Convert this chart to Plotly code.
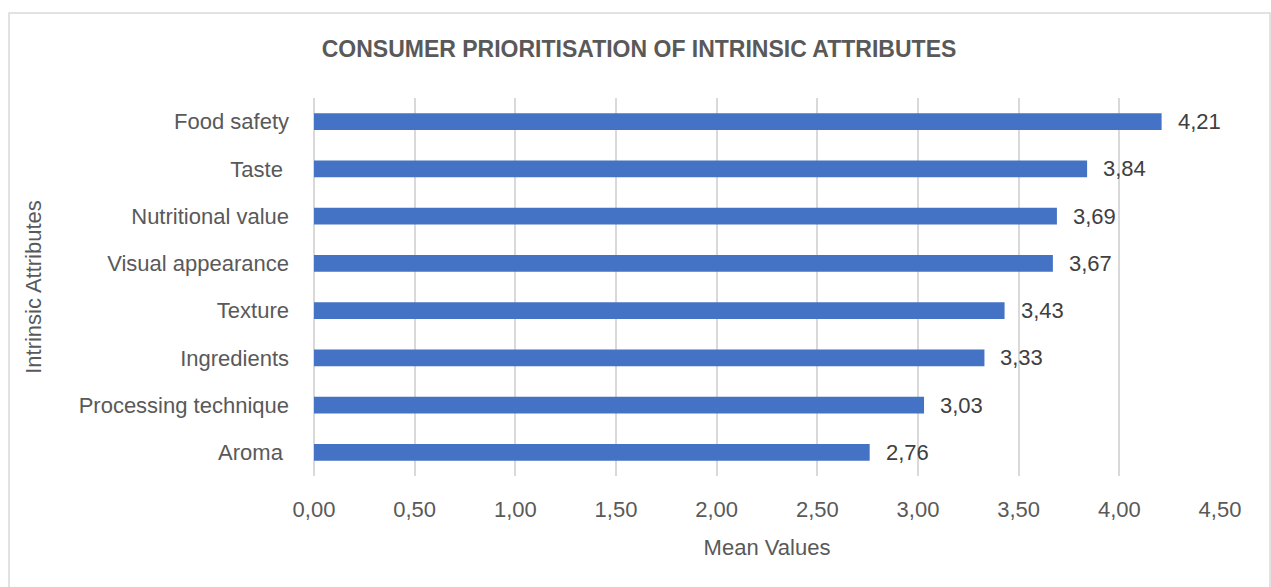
import plotly.graph_objects as go

# Mean scores per intrinsic attribute, listed top to bottom
attributes = ["Food safety", "Taste\u00a0", "Nutritional value", "Visual appearance",
              "Texture", "Ingredients", "Processing technique", "Aroma\u00a0"]
mean_values = [4.21, 3.84, 3.69, 3.67, 3.43, 3.33, 3.03, 2.76]
x_ticks = [0, 0.5, 1.0, 1.5, 2.0, 2.5, 3.0, 3.5, 4.0, 4.5]

FONT = "Liberation Sans Narrow, Arial Narrow, Liberation Sans, Arial, sans-serif"
GREY = "#595959"
GRID = "#d9d9d9"
FS = 22
W, H = 1271, 587
L, R, T, B = 314, 51, 98, 111

fig = go.Figure()
fig.add_trace(go.Bar(
    x=mean_values, y=attributes, orientation="h",
    marker=dict(color="#4472C4", line=dict(width=0)),
    width=0.35, hoverinfo="x+y",
))

# Value labels to the right of each bar
for a, v in zip(attributes, mean_values):
    fig.add_annotation(
        x=v, y=a, xref="x", yref="y", text=f"{v:.2f}".replace(".", ","),
        showarrow=False, xanchor="left", yanchor="middle", xshift=14,
        font=dict(family=FONT, size=FS, color="#404040"),
    )

# Light frame around the whole chart area (runs off the right and bottom edges)
pw, ph = W - L - R, H - T - B
def px_x(p):
    return (p - L) / pw
def px_y(p):
    return (H - B - p) / ph

fig.add_shape(
    type="rect", xref="paper", yref="paper",
    x0=px_x(9), x1=px_x(1270), y0=px_y(640), y1=px_y(13),
    line=dict(color=GRID, width=1.5), fillcolor="rgba(0,0,0,0)", layer="below",
)

fig.update_layout(
    width=W, height=H,
    margin=dict(l=L, r=R, t=T, b=B, autoexpand=False),
    paper_bgcolor="white", plot_bgcolor="white",
    separators=", ",
    font=dict(family=FONT, size=FS, color=GREY),
    showlegend=False,
    title=dict(
        text="<b>CONSUMER PRIORITISATION OF INTRINSIC ATTRIBUTES</b>",
        x=639 / W, xanchor="center", y=1 - 49 / H, yanchor="middle",
        font=dict(family=FONT, size=23, color=GREY),
    ),
    xaxis=dict(
        range=[0, 4.5], tickvals=x_ticks, tickformat=".2f",
        tickfont=dict(size=FS, color=GREY),
        showgrid=True, gridcolor=GRID, gridwidth=1.5,
        zeroline=True, zerolinecolor=GRID, zerolinewidth=1.5,
        showline=False, ticks="", ticklabelstandoff=18,
        title=dict(text="Mean Values", standoff=18, font=dict(size=FS, color=GREY)),
        fixedrange=True,
    ),
    yaxis=dict(
        autorange="reversed", showgrid=False, showline=False, ticks="",
        tickfont=dict(size=FS, color=GREY),
        ticklabelstandoff=24,
        title=dict(text="Intrinsic Attributes", standoff=30, font=dict(size=FS, color=GREY)),
        fixedrange=True,
    ),
)

fig.write_html("out.html")
